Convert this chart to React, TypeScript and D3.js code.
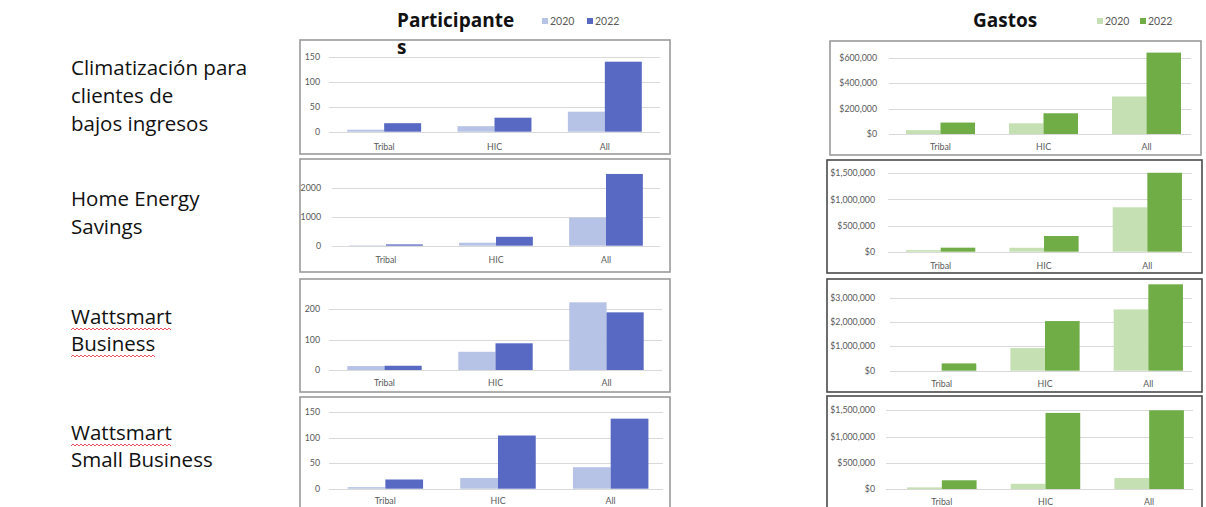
import React, { useEffect, useRef } from "react";
import * as d3 from "d3";

// ---------- data ----------
const categories = ["Tribal", "HIC", "All"];
const seriesYears = ["2020", "2022"];

const programLabels = [
  ["Climatización para", "clientes de", "bajos ingresos"],
  ["Home Energy", "Savings"],
  ["Wattsmart", "Business"],
  ["Wattsmart", "Small Business"],
];
// lines (per program) carrying a spell-check squiggle
const flaggedWords = [[], [], ["Wattsmart", "Business"], ["Wattsmart"]];

const participantsTitle = ["Participante", "s"];
const spendingTitle = "Gastos";

const participants2020 = [
  [4, 11, 40],
  [15, 105, 980],
  [13, 60, 223],
  [3, 21, 42],
];
const participants2022 = [
  [17, 28, 140],
  [45, 310, 2500],
  [14, 88, 190],
  [18, 104, 137],
];
const spending2020 = [
  [30000, 84000, 295000],
  [30000, 75000, 850000],
  [0, 930000, 2520000],
  [30000, 100000, 210000],
];
const spending2022 = [
  [90000, 163000, 640000],
  [77000, 300000, 1510000],
  [300000, 2040000, 3550000],
  [166000, 1450000, 1500000],
];

const participantTicks = [
  [0, 50, 100, 150],
  [0, 1000, 2000],
  [0, 100, 200],
  [0, 50, 100, 150],
];
const spendingTicks = [
  [0, 200000, 400000, 600000],
  [0, 500000, 1000000, 1500000],
  [0, 1000000, 2000000, 3000000],
  [0, 500000, 1000000, 1500000],
];

// ---------- layout ----------
const W = 1206;
const H = 507;
const FONT = "Lato, 'Open Sans', sans-serif";
const LABEL_FONT = "'Open Sans', Lato, sans-serif";

const blueColors = ["#B6C2E6", "#5869C4"];
const greenColors = ["#C5E0B3", "#70AD47"];

type Panel = {
  box: [number, number, number, number];
  grid: [number, number];
  band: [number, number];
  y0: number;
  yTop: number;
  xl: number;
  lab: number;
  border: string;
};

const leftPanels: Panel[] = [
  { box: [300, 40, 670, 154], grid: [329, 660], band: [329, 660], y0: 131.7, yTop: 56.7, xl: 15, lab: 320, border: "#9a9a9a" },
  { box: [300, 159, 670, 272], grid: [332, 660], band: [331, 661], y0: 245.7, yTop: 188.3, xl: 14, lab: 321, border: "#9a9a9a" },
  { box: [300, 279, 670, 392], grid: [329, 662], band: [329, 662], y0: 370, yTop: 309.3, xl: 13, lab: 320, border: "#9a9a9a" },
  { box: [300, 397, 670, 520], grid: [329, 663], band: [329, 667], y0: 488.7, yTop: 412, xl: 12, lab: 320, border: "#9a9a9a" },
];
const rightPanels: Panel[] = [
  { box: [830, 41, 1201, 155], grid: [889, 1191], band: [889, 1198], y0: 134, yTop: 57.7, xl: 13, lab: 877, border: "#9a9a9a" },
  { box: [827, 160, 1202, 273], grid: [888, 1192], band: [889, 1199], y0: 251.7, yTop: 173.3, xl: 14, lab: 875, border: "#4a4a4a" },
  { box: [827, 279, 1202, 392], grid: [890, 1192], band: [890, 1200], y0: 370.7, yTop: 297.7, xl: 13, lab: 875, border: "#4a4a4a" },
  { box: [827, 396, 1202, 520], grid: [886, 1193], band: [890, 1201], y0: 489, yTop: 410.3, xl: 13, lab: 875, border: "#4a4a4a" },
];

const labelBaselines = [
  [75, 103, 131],
  [206, 234],
  [324, 351],
  [440, 467],
];

function drawPanel(
  g: d3.Selection<SVGGElement, unknown, null, undefined>,
  p: Panel,
  v2020: number[],
  v2022: number[],
  ticks: number[],
  colors: string[],
  fmt: (n: number) => string
) {
  const [bx0, by0, bx1, by1] = p.box;
  g.append("rect")
    .attr("x", bx0)
    .attr("y", by0)
    .attr("width", bx1 - bx0)
    .attr("height", by1 - by0)
    .attr("fill", "#fff")
    .attr("stroke", p.border)
    .attr("stroke-width", 1.6);

  const top = ticks[ticks.length - 1];
  const y = d3.scaleLinear().domain([0, top]).range([p.y0, p.yTop]);
  const x = d3.scaleBand<string>().domain(categories).range(p.band).paddingInner(0.33).paddingOuter(0.165);
  const xs = d3.scaleBand<string>().domain(seriesYears).range([0, x.bandwidth()]);

  // gridlines
  g.selectAll(null)
    .data(ticks)
    .enter()
    .append("line")
    .attr("x1", p.grid[0])
    .attr("x2", p.grid[1])
    .attr("y1", (d) => Math.round(y(d)) + 0.5)
    .attr("y2", (d) => Math.round(y(d)) + 0.5)
    .attr("stroke", "#d9d9d9")
    .attr("stroke-width", 1);

  // y tick labels
  g.selectAll(null)
    .data(ticks)
    .enter()
    .append("text")
    .attr("x", p.lab)
    .attr("y", (d) => y(d))
    .attr("dy", "0.35em")
    .attr("text-anchor", "end")
    .attr("font-family", FONT)
    .attr("font-size", 8.8)
    .attr("fill", "#595959")
    .text((d) => fmt(d));

  // bars
  const rows = categories.map((c, i) => ({ c, vals: [v2020[i], v2022[i]] }));
  const grp = g
    .selectAll(null)
    .data(rows)
    .enter()
    .append("g")
    .attr("transform", (d) => `translate(${x(d.c)},0)`);
  grp
    .selectAll("rect")
    .data((d) => d.vals.map((v, k) => ({ v, k })))
    .enter()
    .append("rect")
    .attr("x", (d) => xs(seriesYears[d.k])!)
    .attr("width", xs.bandwidth())
    .attr("y", (d) => y(d.v))
    .attr("height", (d) => Math.max(0, y(0) - y(d.v)))
    .attr("fill", (d) => colors[d.k]);

  // x labels
  g.selectAll(null)
    .data(categories)
    .enter()
    .append("text")
    .attr("x", (d) => x(d)! + x.bandwidth() / 2)
    .attr("y", p.y0 + p.xl)
    .attr("dy", "0.35em")
    .attr("text-anchor", "middle")
    .attr("font-family", FONT)
    .attr("font-size", 8.8)
    .attr("fill", "#595959")
    .text((d) => d);
}

function drawLegend(
  g: d3.Selection<SVGGElement, unknown, null, undefined>,
  xs: number[],
  colors: string[]
) {
  seriesYears.forEach((yr, i) => {
    g.append("rect").attr("x", xs[i]).attr("y", 18).attr("width", 6).attr("height", 6).attr("fill", colors[i]);
    g.append("text")
      .attr("x", xs[i] + 8)
      .attr("y", 25)
      .attr("font-family", FONT)
      .attr("font-size", 10.5)
      .attr("fill", "#595959")
      .text(yr);
  });
}

export default function App() {
  const ref = useRef<SVGSVGElement>(null);
  useEffect(() => {
    const svg = d3.select(ref.current!);
    svg.selectAll("*").remove();
    const g = svg.append("g") as d3.Selection<SVGGElement, unknown, null, undefined>;
    g.append("rect").attr("width", W).attr("height", H).attr("fill", "#fff");

    const intFmt = d3.format("d");
    const moneyFmt = (n: number) => "$" + d3.format(",")(n);

    leftPanels.forEach((p, i) =>
      drawPanel(g, p, participants2020[i], participants2022[i], participantTicks[i], blueColors, intFmt)
    );
    rightPanels.forEach((p, i) =>
      drawPanel(g, p, spending2020[i], spending2022[i], spendingTicks[i], greenColors, moneyFmt)
    );

    // headers
    const header = (x: number, yy: number, s: string) =>
      g
        .append("text")
        .attr("x", x)
        .attr("y", yy)
        .attr("font-family", LABEL_FONT)
        .attr("font-weight", "bold")
        .attr("font-size", 19)
        .attr("fill", "#111")
        .text(s);
    header(397, 27, participantsTitle[0]);
    header(397, 54, participantsTitle[1]);
    header(973, 27, spendingTitle);
    drawLegend(g, [542, 587], blueColors);
    drawLegend(g, [1097, 1140], greenColors);

    // program labels
    programLabels.forEach((lines, i) => {
      lines.forEach((line, j) => {
        const t = g
          .append("text")
          .attr("x", 71)
          .attr("y", labelBaselines[i][j])
          .attr("font-family", LABEL_FONT)
          .attr("font-size", 20.5)
          .attr("font-weight", 500)
          .attr("fill", "#111")
          .text(line);
        if (flaggedWords[i].includes(line)) {
          const w = (t.node() as SVGTextElement).getComputedTextLength();
          const yy = labelBaselines[i][j] + 5;
          const pts: [number, number][] = [];
          for (let k = 0; k * 2 <= w; k++) pts.push([71 + k * 2, yy + (k % 2 === 0 ? 1 : -1)]);
          g.append("path")
            .attr("d", d3.line()(pts))
            .attr("fill", "none")
            .attr("stroke", "#e8404a")
            .attr("stroke-width", 0.9);
        }
      });
    });
  }, []);
  return (
    <svg
      ref={ref}
      width={W}
      height={H}
      style={{ position: "absolute", left: 0, top: 0, display: "block" }}
    />
  );
}
